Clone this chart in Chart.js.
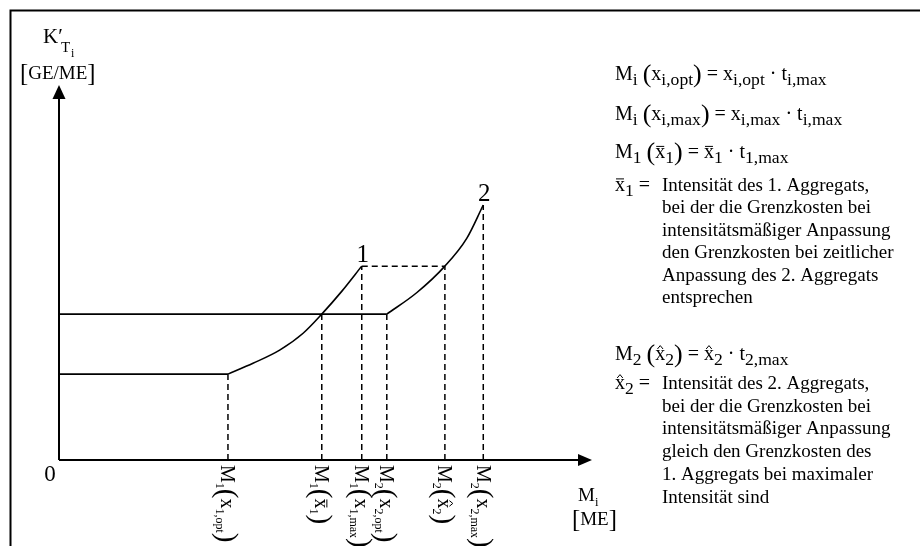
<!DOCTYPE html>
<html>
<head>
<meta charset="utf-8">
<script src="https://cdn.jsdelivr.net/npm/chart.js@4.4.1/dist/chart.umd.min.js"></script>
<style>
  html, body { margin: 0; padding: 0; background: #fff; }
  #wrap { width: 920px; height: 546px; position: relative; }
</style>
</head>
<body>
<div id="wrap"><canvas id="chart"></canvas></div>
<script>
// values (schematic units: x = Menge M_i, y = Grenzkosten K'_Ti)
const lowerX = [0, 3.17];
const lowerY = [2.29, 2.29];
const upperX = [0, 6.15];
const upperY = [3.89, 3.89];
const curve1X = [3.17, 3.64, 4.14, 4.58, 4.93, 5.30, 5.68];
const curve1Y = [2.29, 2.58, 2.93, 3.38, 3.89, 4.49, 5.17];
const curve2X = [6.15, 6.71, 7.24, 7.65, 7.96];
const curve2Y = [3.89, 4.46, 5.17, 5.91, 6.80];

// marked quantities on the x axis and the height the dashed drop line reaches
const tickX = [3.17, 4.93, 5.68, 6.15, 7.24, 7.96];
const dropY = [2.29, 3.89, 5.17, 3.89, 5.17, 6.80];
const linkX = [5.68, 7.24];
const linkY = [5.17, 5.17];

// tick labels as [text, kind, accent]
const tickLabels = [
  [['M'], ['1', 'sub'], ['(', 'big'], ['x'], ['1,opt', 'sub'], [')', 'big']],
  [['M'], ['1', 'sub'], ['(', 'big'], ['x', '', 'bar'], ['1', 'sub'], [')', 'big']],
  [['M'], ['1', 'sub'], ['(', 'big'], ['x'], ['1,max', 'sub'], [')', 'big']],
  [['M'], ['2', 'sub'], ['(', 'big'], ['x'], ['2,opt', 'sub'], [')', 'big']],
  [['M'], ['2', 'sub'], ['(', 'big'], ['x', '', 'hat'], ['2', 'sub'], [')', 'big']],
  [['M'], ['2', 'sub'], ['(', 'big'], ['x'], ['2,max', 'sub'], [')', 'big']]
];
const curveNames = ['1', '2'];

const legendFormulas = [
  [['M'], ['i', 'sub'], [' '], ['(', 'big'], ['x'], ['i,opt', 'sub'], [')', 'big'], [' = x'], ['i,opt', 'sub'], [' · t'], ['i,max', 'sub']],
  [['M'], ['i', 'sub'], [' '], ['(', 'big'], ['x'], ['i,max', 'sub'], [')', 'big'], [' = x'], ['i,max', 'sub'], [' · t'], ['i,max', 'sub']],
  [['M'], ['1', 'sub'], [' '], ['(', 'big'], ['x', '', 'bar'], ['1', 'sub'], [')', 'big'], [' = '], ['x', '', 'bar'], ['1', 'sub'], [' · t'], ['1,max', 'sub']]
];
const note1Head = [['x', '', 'bar'], ['1', 'sub'], [' =']];
const note1Lines = [
  'Intensität des 1. Aggregats,',
  'bei der die Grenzkosten bei',
  'intensitätsmäßiger Anpassung',
  'den Grenzkosten bei zeitlicher',
  'Anpassung des 2. Aggregats',
  'entsprechen'
];
const formula2 = [['M'], ['2', 'sub'], [' '], ['(', 'big'], ['x', '', 'hat'], ['2', 'sub'], [')', 'big'], [' = '], ['x', '', 'hat'], ['2', 'sub'], [' · t'], ['2,max', 'sub']];
const note2Head = [['x', '', 'hat'], ['2', 'sub'], [' =']];
const note2Lines = [
  'Intensität des 2. Aggregats,',
  'bei der die Grenzkosten bei',
  'intensitätsmäßiger Anpassung',
  'gleich den Grenzkosten des',
  '1. Aggregats bei maximaler',
  'Intensität sind'
];

const FONT = '"Liberation Serif", "Times New Roman", serif';
const pts = (xs, ys) => xs.map((x, i) => ({ x: x, y: ys[i] }));

function drawRich(ctx, x, y, segs, size, subRatio, bigRatio) {
  const sr = subRatio || 0.66;
  const br = bigRatio || 1.3;
  let cx = x;
  ctx.textBaseline = 'alphabetic';
  ctx.textAlign = 'left';
  for (const s of segs) {
    const kind = s[1] || '';
    let fs = size, dy = 0;
    if (kind === 'sub') { fs = size * sr; dy = size * 0.27; }
    if (kind === 'big') { fs = size * br; dy = size * (br - 1) * 0.4; }
    ctx.font = fs + 'px ' + FONT;
    ctx.fillText(s[0], cx, y + dy);
    const w = ctx.measureText(s[0]).width;
    if (s[2] === 'bar') {
      ctx.beginPath();
      ctx.lineWidth = 1;
      ctx.moveTo(cx + 1, y - fs * 0.58);
      ctx.lineTo(cx + w - 1, y - fs * 0.58);
      ctx.stroke();
    }
    if (s[2] === 'hat') {
      ctx.beginPath();
      ctx.lineWidth = 1;
      ctx.moveTo(cx + w * 0.22, y - fs * 0.55);
      ctx.lineTo(cx + w * 0.5, y - fs * 0.72);
      ctx.lineTo(cx + w * 0.78, y - fs * 0.55);
      ctx.stroke();
    }
    cx += w;
  }
  return cx - x;
}

const decor = {
  id: 'decor',
  beforeDatasetsDraw(chart) {
    const ctx = chart.ctx;
    const xs = chart.scales.x, ys = chart.scales.y;
    const x0 = xs.getPixelForValue(0), y0 = ys.getPixelForValue(0);
    const xTip = xs.getPixelForValue(xs.max), yTip = ys.getPixelForValue(ys.max);
    ctx.save();
    ctx.strokeStyle = '#000';
    ctx.fillStyle = '#000';
    // frame
    ctx.lineWidth = 2;
    ctx.beginPath();
    ctx.moveTo(10.5, 546);
    ctx.lineTo(10.5, 10.5);
    ctx.lineTo(920, 10.5);
    ctx.stroke();
    // axes
    ctx.lineWidth = 2;
    ctx.beginPath();
    ctx.moveTo(x0, y0);
    ctx.lineTo(x0, yTip + 10);
    ctx.moveTo(x0, y0);
    ctx.lineTo(xTip - 10, y0);
    ctx.stroke();
    ctx.beginPath();
    ctx.moveTo(x0, yTip);
    ctx.lineTo(x0 - 6.5, yTip + 14);
    ctx.lineTo(x0 + 6.5, yTip + 14);
    ctx.closePath();
    ctx.fill();
    ctx.beginPath();
    ctx.moveTo(xTip, y0);
    ctx.lineTo(xTip - 14, y0 - 6);
    ctx.lineTo(xTip - 14, y0 + 6);
    ctx.closePath();
    ctx.fill();
    ctx.restore();
  },
  afterDraw(chart) {
    const ctx = chart.ctx;
    const xs = chart.scales.x, ys = chart.scales.y;
    const x0 = xs.getPixelForValue(0), y0 = ys.getPixelForValue(0);
    const xTip = xs.getPixelForValue(xs.max);
    ctx.save();
    ctx.fillStyle = '#000';
    ctx.strokeStyle = '#000';
    // axis titles
    drawRich(ctx, 43, 43, [['K′']], 21);
    ctx.font = '15px ' + FONT;
    ctx.fillText('T', 61, 52);
    ctx.font = '12px ' + FONT;
    ctx.fillText('i', 71, 57);
    drawRich(ctx, 20, 79, [['[', 'big'], ['GE/ME'], [']', 'big']], 19);
    ctx.font = '23px ' + FONT;
    ctx.textAlign = 'center';
    ctx.fillText('0', x0 - 9, 481);
    drawRich(ctx, xTip - 14, 501, [['M'], ['i', 'sub']], 19);
    drawRich(ctx, xTip - 20, 525, [['[', 'big'], ['ME'], [']', 'big']], 19);
    // curve names
    ctx.font = '25px ' + FONT;
    ctx.textAlign = 'center';
    ctx.fillText(curveNames[0], xs.getPixelForValue(curve1X[curve1X.length - 1]) + 1, ys.getPixelForValue(curve1Y[curve1Y.length - 1]) - 4);
    ctx.fillText(curveNames[1], xs.getPixelForValue(curve2X[curve2X.length - 1]) + 1, ys.getPixelForValue(curve2Y[curve2Y.length - 1]) - 4);
    // rotated tick labels
    tickX.forEach((v, i) => {
      ctx.save();
      ctx.translate(xs.getPixelForValue(v), y0 + 5);
      ctx.rotate(Math.PI / 2);
      drawRich(ctx, 0, 6.5, tickLabels[i], 20, 0.6, 1.45);
      ctx.restore();
    });
    // explanation block
    const lx = 615, tx = 662;
    drawRich(ctx, lx, 80, legendFormulas[0], 20, 0.88);
    drawRich(ctx, lx, 120, legendFormulas[1], 20, 0.88);
    drawRich(ctx, lx, 158, legendFormulas[2], 20, 0.88);
    drawRich(ctx, lx, 190.5, note1Head, 20, 0.88);
    ctx.font = '19px ' + FONT;
    ctx.textAlign = 'left';
    note1Lines.forEach((t, i) => ctx.fillText(t, tx, 190.5 + i * 22.5));
    drawRich(ctx, lx, 360, formula2, 20, 0.88);
    drawRich(ctx, lx, 389, note2Head, 20, 0.88);
    ctx.font = '19px ' + FONT;
    note2Lines.forEach((t, i) => ctx.fillText(t, tx, 389 + i * 22.7));
    ctx.restore();
  }
};

const solid = { borderColor: '#000', borderWidth: 1.6, pointRadius: 0, showLine: true, fill: false, clip: false };
const dashed = { borderColor: '#000', borderWidth: 1.5, borderDash: [6, 4], pointRadius: 0, showLine: true, fill: false, clip: false };

const datasets = [
  Object.assign({ data: pts(lowerX, lowerY) }, solid),
  Object.assign({ data: pts(upperX, upperY) }, solid),
  Object.assign({ data: pts(curve1X, curve1Y), cubicInterpolationMode: 'monotone' }, solid),
  Object.assign({ data: pts(curve2X, curve2Y), cubicInterpolationMode: 'monotone' }, solid),
  Object.assign({ data: pts(linkX, linkY) }, dashed)
];
tickX.forEach((v, i) => {
  datasets.push(Object.assign({ data: [{ x: v, y: 0 }, { x: v, y: dropY[i] }] }, dashed));
});

new Chart(document.getElementById('chart'), {
  type: 'scatter',
  data: { datasets: datasets },
  options: {
    responsive: true,
    maintainAspectRatio: false,
    devicePixelRatio: 1,
    animation: false,
    layout: { padding: { left: 59, right: 328, top: 85, bottom: 86 } },
    plugins: { legend: { display: false }, tooltip: { enabled: false } },
    scales: {
      x: { type: 'linear', min: 0, max: 10, display: false },
      y: { type: 'linear', min: 0, max: 10, display: false }
    }
  },
  plugins: [decor]
});
</script>
</body>
</html>
